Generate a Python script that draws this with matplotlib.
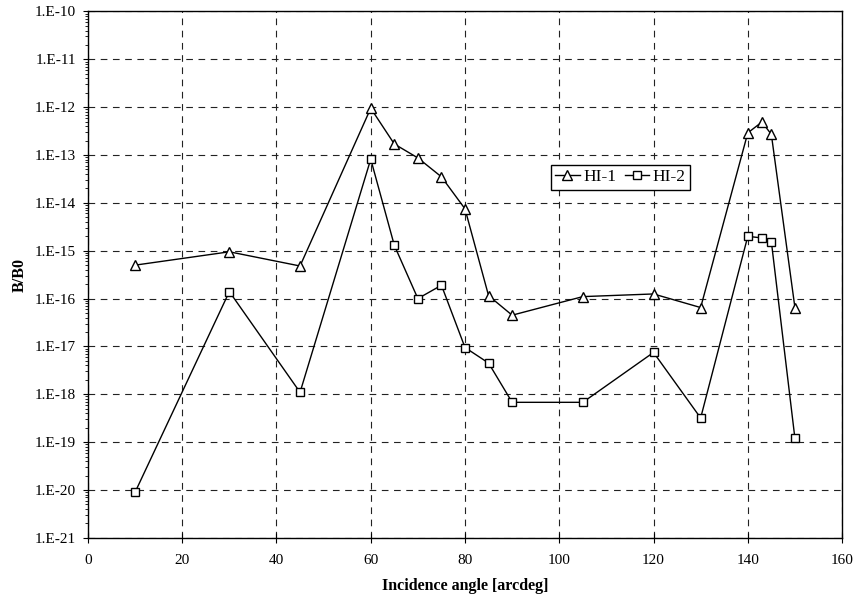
import math
import matplotlib
matplotlib.use("Agg")
import matplotlib.pyplot as plt
from matplotlib.ticker import FixedLocator, FuncFormatter, LogLocator, NullFormatter

# data
angle = [10, 30, 45, 60, 65, 70, 75, 80, 85, 90, 105, 120, 130, 140, 143, 145, 150]
hi1 = [5.0e-16, 9.5e-16, 4.8e-16, 9.5e-13, 1.7e-13, 8.7e-14, 3.5e-14, 7.5e-15,
       1.15e-16, 4.5e-17, 1.1e-16, 1.25e-16, 6.5e-17, 2.9e-13, 4.9e-13, 2.7e-13, 6.5e-17]
hi2 = [9.0e-21, 1.4e-16, 1.1e-18, 8.2e-14, 1.3e-15, 1.0e-16, 1.9e-16, 9.5e-18,
       4.5e-18, 6.8e-19, 6.8e-19, 7.5e-18, 3.2e-19, 2.0e-15, 1.85e-15, 1.55e-15, 1.2e-19]
y_exps = list(range(-21, -9))

plt.rcParams['font.family'] = ['Liberation Serif', 'DejaVu Serif']

fig = plt.figure(figsize=(8.54, 6.03), dpi=100)
ax = fig.add_axes([0.103, 0.108, 0.883, 0.873])

ax.plot(angle, hi1, color='black', lw=1, marker='^', ms=6.5, mfc='white', mec='black',
        mew=1, label='HI-1')
ax.plot(angle, hi2, color='black', lw=1, marker='s', ms=6, mfc='white', mec='black',
        mew=1, label='HI-2')

ax.set_yscale('log')
ax.set_xlim(0, 160)
ax.set_ylim(1e-21, 1e-10)
ax.xaxis.set_major_locator(FixedLocator(range(0, 161, 20)))
ax.yaxis.set_major_locator(FixedLocator([10.0 ** e for e in y_exps]))
ax.yaxis.set_minor_locator(LogLocator(base=10, subs=range(2, 10), numticks=20))
ax.yaxis.set_minor_formatter(NullFormatter())
ax.yaxis.set_major_formatter(FuncFormatter(lambda v, p: "1.E%d" % round(math.log10(v))))

ax.grid(True, which='major', color='#222222', linestyle=(0, (6, 5)), lw=0.8)
ax.tick_params(axis='both', which='major', labelsize=11, color='black')
ax.tick_params(axis='x', which='major', direction='inout', length=6.5, pad=8)
ax.tick_params(axis='y', which='major', direction='out', length=3.6, pad=5)
ax.tick_params(axis='y', which='minor', direction='out', length=2.5)
for s in ax.spines.values():
    s.set_linewidth(1)
    s.set_color('black')

ax.set_xlabel('Incidence angle [arcdeg]', fontsize=11.5, fontweight='bold', labelpad=8)
ax.set_ylabel('B/B0', fontsize=11.5, fontweight='bold', labelpad=5)

leg = ax.legend(loc='center', bbox_to_anchor=(0.706, 0.685), ncol=2, fontsize=12.5,
                frameon=True, fancybox=False, edgecolor='black', framealpha=1,
                handlelength=1.4, handletextpad=0.2, columnspacing=0.5, borderpad=0.25)
leg.get_frame().set_linewidth(1)

fig.savefig('out.png', dpi=100)
